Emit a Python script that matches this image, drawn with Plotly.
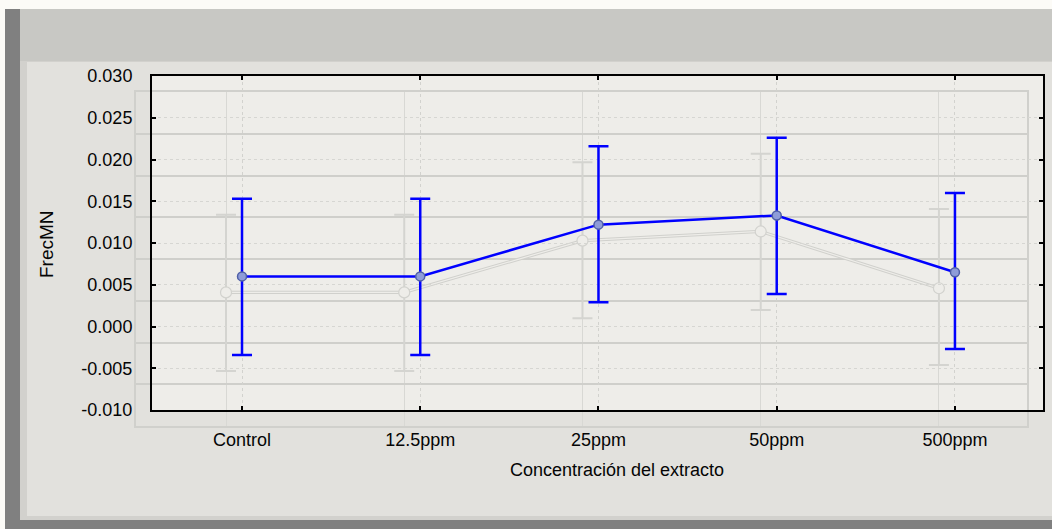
import plotly.graph_objects as go

# ---------------- data ----------------
categories = ["Control", "12.5ppm", "25ppm", "50ppm", "500ppm"]
mean_frecmn = [0.0060, 0.0060, 0.0122, 0.0133, 0.0065]
upper_ci = [0.0153, 0.0153, 0.0216, 0.0226, 0.0160]
lower_ci = [-0.0034, -0.0034, 0.0029, 0.0039, -0.0027]
y_tick_values = [-0.010, -0.005, 0.000, 0.005, 0.010, 0.015, 0.020, 0.025, 0.030]
y_tick_labels = ["-0.010", "-0.005", "0.000", "0.005", "0.010", "0.015", "0.020", "0.025", "0.030"]
x_title = "Concentración del extracto"
y_title = "FrecMN"

err_plus = [u - m for u, m in zip(upper_ci, mean_frecmn)]
err_minus = [m - l for m, l in zip(mean_frecmn, lower_ci)]

W, H = 1052, 529


def px(x):
    return x / W


def py(y):
    return 1 - y / H


FONT = "Arial, 'Liberation Sans', Helvetica, sans-serif"
TXT = "#050505"
XRANGE = [-0.505, 4.494]
YRANGE = [-0.010, 0.030]

fig = go.Figure()

# ---------- ghost copy (faint, offset) on first subplot ----------
fig.add_trace(go.Scatter(x=categories, y=mean_frecmn, mode="lines",
                         line=dict(color="#d0d0cc", width=3.2),
                         xaxis="x", yaxis="y", hoverinfo="skip", showlegend=False))
fig.add_trace(go.Scatter(x=categories, y=mean_frecmn, mode="lines",
                         line=dict(color="#eeede9", width=1.2),
                         xaxis="x", yaxis="y", hoverinfo="skip", showlegend=False))
fig.add_trace(go.Scatter(x=categories, y=mean_frecmn, mode="markers",
                         marker=dict(size=11, color="#eeede9",
                                     line=dict(color="#d2d2ce", width=1.2)),
                         error_y=dict(type="data", symmetric=False, array=err_plus,
                                      arrayminus=err_minus, color="#d4d4d0",
                                      thickness=2, width=10),
                         xaxis="x", yaxis="y", hoverinfo="skip", showlegend=False))

# ---------- main series on second subplot ----------
fig.add_trace(go.Scatter(x=categories, y=mean_frecmn, mode="lines+markers",
                         line=dict(color="#0000ff", width=2.5),
                         marker=dict(size=9, color="#8e9cd8",
                                     line=dict(color="#4f5fa6", width=1.5)),
                         error_y=dict(type="data", symmetric=False, array=err_plus,
                                      arrayminus=err_minus, color="#0000ff",
                                      thickness=2.5, width=10),
                         xaxis="x2", yaxis="y2", showlegend=False))

shapes = [
    # window chrome
    dict(type="rect", xref="paper", yref="paper", x0=px(5), x1=px(20), y0=py(529), y1=py(9),
         fillcolor="#808080", line_width=0, layer="below"),
    dict(type="rect", xref="paper", yref="paper", x0=px(5), x1=px(1052), y0=py(529), y1=py(520),
         fillcolor="#808080", line_width=0, layer="below"),
    dict(type="rect", xref="paper", yref="paper", x0=px(20), x1=px(1052), y0=py(61), y1=py(9),
         fillcolor="#c8c8c4", line_width=0, layer="below"),
    dict(type="rect", xref="paper", yref="paper", x0=px(20), x1=px(1052), y0=py(520), y1=py(61),
         fillcolor="#d2d1cd", line_width=0, layer="below"),
    dict(type="rect", xref="paper", yref="paper", x0=px(27), x1=px(1052), y0=py(516), y1=py(62),
         fillcolor="#e2e1dd", line_width=0, layer="below"),
    # main plot background
    dict(type="rect", xref="paper", yref="paper", x0=px(152), x1=px(1043), y0=py(410), y1=py(76),
         fillcolor="#eeede9", line_width=0, layer="below"),
]

fig.update_layout(
    width=W, height=H,
    margin=dict(l=0, r=0, t=0, b=0, pad=0, autoexpand=False),
    paper_bgcolor="#fcfbf7",
    plot_bgcolor="rgba(0,0,0,0)",
    shapes=shapes,
    font=dict(family=FONT, size=18, color=TXT),
    showlegend=False,
    xaxis=dict(domain=[px(136), px(1027)], anchor="y", type="category", range=XRANGE,
               showticklabels=False, ticks="", showline=True, mirror=True,
               linecolor="#d0d0cc", linewidth=1.5, showgrid=True, automargin=False,
               gridcolor="#d8d8d4", gridwidth=1, zeroline=False),
    yaxis=dict(domain=[py(426), py(92)], anchor="x", range=YRANGE,
               tickvals=y_tick_values, showticklabels=False, ticks="", automargin=False,
               showline=True, mirror=True, linecolor="#d0d0cc", linewidth=1.5,
               showgrid=True, gridcolor="#cfcfcb", gridwidth=1.5, zeroline=False),
    xaxis2=dict(domain=[px(152), px(1043)], anchor="y2", type="category", range=XRANGE,
                ticks="inside", ticklen=4, tickwidth=2, tickcolor="#000000",
                showline=True, mirror="ticks", linecolor="#000000", linewidth=2,
                showgrid=True, gridcolor="#d2d2ce", gridwidth=1, griddash="3px,3px",
                zeroline=False, ticklabelstandoff=12, automargin=False,
                tickfont=dict(family=FONT, size=18, color=TXT)),
    yaxis2=dict(domain=[py(410), py(76)], anchor="x2", range=YRANGE,
                tickvals=y_tick_values, ticktext=y_tick_labels,
                ticks="inside", ticklen=4, tickwidth=2, tickcolor="#000000",
                showline=True, mirror="ticks", linecolor="#000000", linewidth=2,
                showgrid=True, gridcolor="#d6d6d2", gridwidth=1, griddash="3px,3px",
                zeroline=False, ticklabelstandoff=14, automargin=False,
                tickfont=dict(family=FONT, size=18, color=TXT)),
    annotations=[
        dict(text=x_title, xref="paper", yref="paper", x=px(617), y=py(470),
             xanchor="center", yanchor="middle", showarrow=False,
             font=dict(family=FONT, size=18, color=TXT)),
        dict(text=y_title, xref="paper", yref="paper", x=px(47), y=py(244),
             xanchor="center", yanchor="middle", showarrow=False, textangle=-90,
             font=dict(family=FONT, size=19, color=TXT)),
    ],
)

fig.write_html(
    "out.html",
    config={"displayModeBar": False},
    post_script="document.body.style.margin='0';document.body.style.padding='0';"
                "document.documentElement.style.margin='0';",
)
